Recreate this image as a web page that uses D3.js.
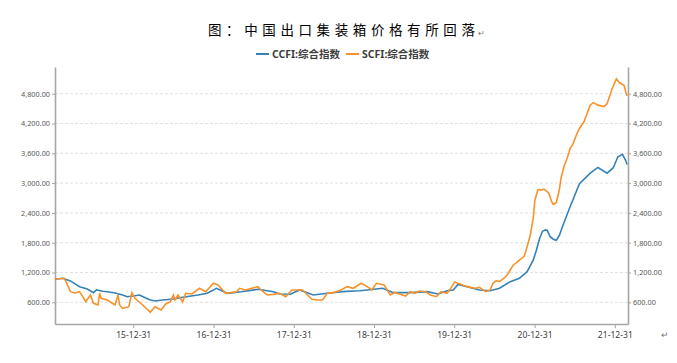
<!DOCTYPE html>
<html>
<head>
<meta charset="utf-8">
<script src="https://cdn.jsdelivr.net/npm/d3@7/dist/d3.min.js"></script>
<style>
  body { margin: 0; background: #fff; }
  text { font-family: "Noto Sans", "Noto Sans CJK SC", sans-serif; }
</style>
</head>
<body>
<script>
// weekly index readings, CCFI and SCFI composite
(function(){

var titleText = "图：中国出口集装箱价格有所回落";
var seriesNames = ["CCFI:综合指数", "SCFI:综合指数"];
var seriesColors = ["#3482b6", "#f7922b"];

var ccfiDates = ["2015-01-09","2015-02-13","2015-03-20","2015-05-01","2015-06-05","2015-07-03","2015-07-17","2015-08-14",
  "2015-09-04","2015-10-09","2015-11-13","2015-12-04","2015-12-31","2016-01-29","2016-02-26","2016-03-18","2016-04-08",
  "2016-05-13","2016-07-01","2016-08-12","2016-10-21","2016-12-02","2017-01-13","2017-03-03","2017-05-05","2017-07-21",
  "2017-08-11","2017-09-29","2017-10-27","2017-12-15","2018-01-26","2018-03-30","2018-06-01","2018-08-10","2018-10-26",
  "2018-11-30","2019-02-08","2019-03-29","2019-06-14","2019-08-30","2019-10-18","2019-11-29","2019-12-27","2020-01-17",
  "2020-02-28","2020-04-24","2020-06-12","2020-07-24","2020-09-11","2020-10-23","2020-11-27","2020-12-25","2021-01-08",
  "2021-01-22","2021-02-05","2021-02-19","2021-02-26","2021-03-12","2021-03-26","2021-04-09","2021-04-23","2021-05-07",
  "2021-06-11","2021-07-23","2021-09-10","2021-10-15","2021-11-26","2021-12-24","2022-01-14","2022-02-04","2022-02-18",
  "2022-02-25"];
var ccfiValues = [1064,1084,1030,915,868,794,848,822,
  814,788,747,713,727,747,687,646,626,
  646,667,701,747,781,882,781,814,862,
  848,814,767,761,848,747,781,814,834,
  848,882,794,794,814,767,834,848,960,
  915,848,834,882,1015,1084,1217,1453,1650,
  1880,2030,2058,2050,1920,1870,1850,1950,2125,
  2528,2990,3200,3315,3200,3310,3530,3580,3460,
  3375];

var scfiDates = ["2015-01-09","2015-01-30","2015-02-20","2015-03-06","2015-03-20","2015-04-10","2015-05-01","2015-05-15",
  "2015-05-29","2015-06-19","2015-07-03","2015-07-24","2015-07-31","2015-08-07","2015-09-04","2015-10-09","2015-10-23",
  "2015-10-30","2015-11-13","2015-12-11","2015-12-25","2016-01-08","2016-02-12","2016-03-18","2016-04-08","2016-05-06",
  "2016-05-27","2016-06-17","2016-07-01","2016-07-08","2016-07-22","2016-08-12","2016-08-26","2016-09-23","2016-10-28",
  "2016-11-25","2016-12-30","2017-01-20","2017-02-24","2017-04-14","2017-04-28","2017-05-26","2017-06-23","2017-07-21",
  "2017-08-04","2017-09-01","2017-09-29","2017-10-27","2017-11-24","2017-12-22","2018-01-26","2018-02-09","2018-03-23",
  "2018-04-20","2018-05-11","2018-06-01","2018-06-29","2018-07-27","2018-08-31","2018-09-28","2018-11-02","2018-11-30",
  "2018-12-21","2019-01-11","2019-02-15","2019-03-15","2019-04-05","2019-04-26","2019-05-24","2019-06-14","2019-07-05",
  "2019-07-26","2019-08-23","2019-09-13","2019-10-11","2019-11-01","2019-11-29","2019-12-20","2020-01-03","2020-01-17",
  "2020-02-28","2020-04-03","2020-04-24","2020-05-22","2020-06-12","2020-06-24","2020-07-10","2020-07-24","2020-08-14",
  "2020-08-28","2020-09-11","2020-09-25","2020-10-16","2020-10-23","2020-11-13","2020-11-27","2020-12-11","2020-12-25",
  "2021-01-01","2021-01-15","2021-01-29","2021-02-12","2021-02-26","2021-03-05","2021-03-19","2021-03-26","2021-04-09",
  "2021-04-23","2021-04-30","2021-05-14","2021-05-28","2021-06-11","2021-06-25","2021-07-09","2021-07-23","2021-08-13",
  "2021-08-27","2021-09-10","2021-09-24","2021-10-15","2021-11-12","2021-11-26","2021-12-17","2022-01-07","2022-01-21",
  "2022-02-11","2022-02-18","2022-02-25"];
var scfiValues = [1064,1075,1084,960,814,788,814,713,
  612,747,580,546,781,680,646,546,747,
  546,479,511,794,680,546,400,511,445,
  566,612,747,646,747,612,781,767,882,
  814,983,949,781,814,882,848,882,915,
  848,747,760,781,713,848,848,848,660,
  646,646,781,795,834,915,882,983,915,
  848,983,949,747,802,767,727,814,781,
  828,814,747,713,814,781,915,1010,983,
  915,882,902,814,848,983,1036,1015,1084,
  1150,1251,1352,1419,1453,1520,1721,1950,2300,
  2650,2870,2860,2880,2830,2800,2620,2570,2610,
  2880,3100,3340,3500,3700,3800,3970,4100,4240,
  4400,4570,4620,4570,4540,4600,4880,5100,5020,
  4970,4850,4760];

var yTicks = [600, 1200, 1800, 2400, 3000, 3600, 4200, 4800];
var xTickLabels = ["2015-12-31","2016-12-31","2017-12-31","2018-12-31","2019-12-31","2020-12-31","2021-12-31"];

var width = 677, height = 363;
var plotLeft = 55, plotRight = 628, plotTop = 67, plotBottom = 324;

var parseDate = d3.timeParse("%Y-%m-%d");

var svg = d3.select("body").append("svg")
  .attr("width", width)
  .attr("height", height);

var x = d3.scaleTime()
  .domain([parseDate("2015-01-09"), parseDate("2022-03-01")])
  .range([plotLeft, plotRight]);

var y = d3.scaleLinear()
  .domain([163, 5338])
  .range([plotBottom, plotTop]);

// dashed gridlines
svg.append("g").selectAll("line")
  .data(yTicks)
  .enter().append("line")
  .attr("x1", plotLeft).attr("x2", plotRight)
  .attr("y1", function(d){ return y(d); })
  .attr("y2", function(d){ return y(d); })
  .attr("stroke", "#d9d9d9")
  .attr("stroke-width", 0.8)
  .attr("stroke-dasharray", "3,2");

// axes
var fmt = d3.format(",.2f");
var left = svg.append("g")
  .attr("transform", "translate(" + plotLeft + ",0)")
  .call(d3.axisLeft(y).tickValues(yTicks).tickFormat(fmt).tickSize(3).tickSizeOuter(0).tickPadding(2));
var right = svg.append("g")
  .attr("transform", "translate(" + plotRight + ",0)")
  .call(d3.axisRight(y).tickValues(yTicks).tickFormat(fmt).tickSize(3).tickSizeOuter(0).tickPadding(2));
var bottom = svg.append("g")
  .attr("transform", "translate(0," + plotBottom + ")")
  .call(d3.axisBottom(x).tickValues(xTickLabels.map(parseDate))
    .tickFormat(d3.timeFormat("%y-%m-%d")).tickSize(4).tickSizeOuter(0).tickPadding(4));

[left, right, bottom].forEach(function(g){
  g.select(".domain").attr("stroke", "#a6a6a6").attr("stroke-width", 1.6);
  g.selectAll(".tick line").attr("stroke", "#a6a6a6");
});
left.selectAll("text").attr("font-size", 7.3).attr("fill", "#595959").attr("font-family", "Noto Sans");
right.selectAll("text").attr("font-size", 7.3).attr("fill", "#595959").attr("font-family", "Noto Sans");
bottom.selectAll("text").attr("font-size", 8.6).attr("fill", "#404040").attr("font-family", "Noto Sans");

// lines
var line = d3.line()
  .x(function(d){ return x(d[0]); })
  .y(function(d){ return y(d[1]); });

var ccfi = ccfiDates.map(function(d, i){ return [parseDate(d), ccfiValues[i]]; });
var scfi = scfiDates.map(function(d, i){ return [parseDate(d), scfiValues[i]]; });

svg.append("path").datum(ccfi)
  .attr("d", line).attr("fill", "none")
  .attr("stroke", seriesColors[0]).attr("stroke-width", 1.6);
svg.append("path").datum(scfi)
  .attr("d", line).attr("fill", "none")
  .attr("stroke", seriesColors[1]).attr("stroke-width", 1.6);

// title, with the word-processor return marks
svg.append("text")
  .attr("x", 208).attr("y", 35)
  .attr("font-family", "Noto Sans CJK SC")
  .attr("font-size", 13.5)
  .attr("letter-spacing", 4.6)
  .attr("fill", "#000")
  .text(titleText);
svg.append("text")
  .attr("x", 478).attr("y", 36)
  .attr("font-family", "DejaVu Sans")
  .attr("font-size", 8).attr("fill", "#777")
  .text("↵");
svg.append("text")
  .attr("x", 661).attr("y", 338)
  .attr("font-family", "DejaVu Sans")
  .attr("font-size", 9).attr("fill", "#777")
  .text("↵");

// legend
var legendX = [256, 346];
seriesNames.forEach(function(name, i){
  svg.append("line")
    .attr("x1", legendX[i]).attr("x2", legendX[i] + 13)
    .attr("y1", 54).attr("y2", 54)
    .attr("stroke", seriesColors[i]).attr("stroke-width", 2);
  svg.append("text")
    .attr("x", legendX[i] + 16).attr("y", 58)
    .attr("font-family", "Noto Sans CJK SC")
    .attr("font-weight", "bold")
    .attr("font-size", 10.5)
    .attr("fill", "#404040")
    .text(name);
});

})();
</script>
</body>
</html>
